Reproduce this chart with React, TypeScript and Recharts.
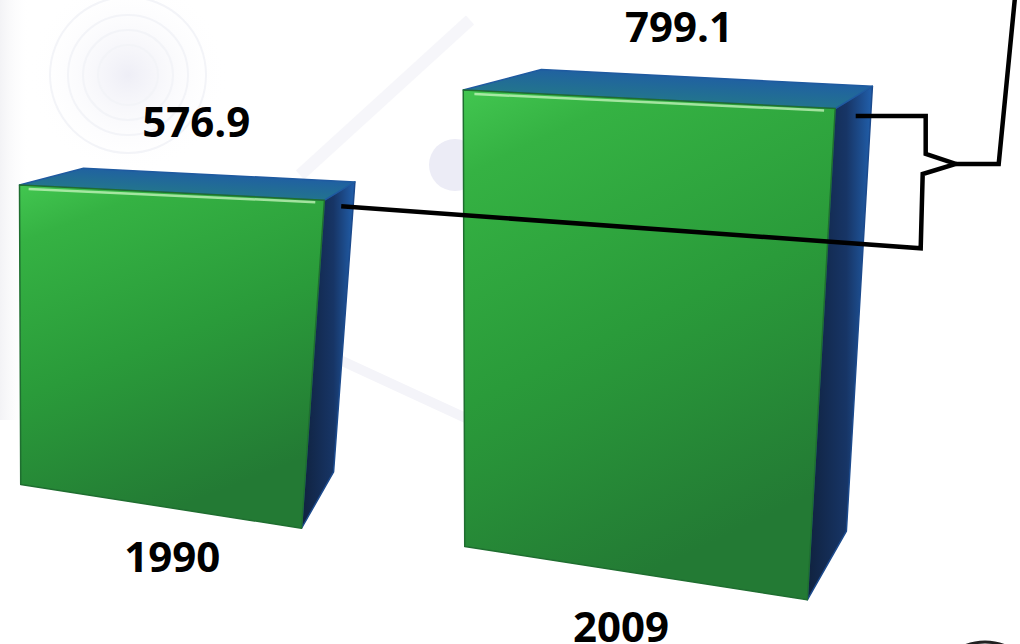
import React from "react";
import { Bar, BarChart, LabelList, XAxis, YAxis } from "recharts";

const years = ["1990", "2009"];
const totals = [576.9, 799.1];
const chartData = years.map((year, i) => ({ year, value: totals[i] }));

const FONT = '"Open Sans", "Liberation Sans", sans-serif';
const BAR_W = 305;
const NEAR_LEFT = 20; // left edge of the nearest (first) box
const BAND_STEP = 444;

type Pt = [number, number];

// fake perspective: boxes further right sit lower and look a bit bigger
const depthOf = (left: number) => (left - NEAR_LEFT) / BAND_STEP;

function boxGeo(x: number, y: number, width: number, height: number) {
  const d = depthOf(x);
  const s = width * (1 + 0.22 * d);
  const base = y + height;
  const floorL = base + 53 + 62 * d;
  const tl: Pt = [x, y];
  const tr: Pt = [x + s, y + 0.05 * s];
  const br: Pt = [x + 0.925 * s, floorL + 0.155 * 0.925 * s];
  const bl: Pt = [x + 0.004 * s, floorL];
  const trBack: Pt = [tr[0] + 0.1 * s, tr[1] - 0.06 * s];
  const brBack: Pt = [br[0] + 0.105 * s, br[1] - 0.185 * s];
  const tlBack: Pt = [x + 0.21 * s, y - 0.055 * s];
  const anchor: Pt = [tr[0] + 0.055 * s, tr[1] + 0.02 * s];
  return { s, tl, tr, br, bl, trBack, brBack, tlBack, anchor };
}

const pts = (list: Pt[]) => list.map((p) => `${p[0]},${p[1]}`).join(" ");

// side anchors, filled while the boxes render (in order)
const anchors: Pt[] = [];

function Box3D(props: any) {
  const { x, y, width, height, index } = props;
  const g = boxGeo(x, y, width, height);
  anchors[index] = g.anchor;
  let note = null;
  if (index === 1 && anchors[0]) {
    const a0 = anchors[0];
    const a1 = g.anchor;
    const bx = a1[0] + 70;
    const tipY = a1[1] + 48;
    const bottomY = a0[1] + 42;
    note = (
      <g fill="none" stroke="#000" strokeWidth={4.5} strokeLinejoin="miter">
        <polyline
          points={pts([
            a1,
            [bx, a1[1]],
            [bx, a1[1] + 38],
            [bx + 30, tipY],
            [bx - 3, a1[1] + 58],
            [bx - 5, bottomY],
            a0,
          ])}
        />
        <polyline points={pts([[bx + 30, tipY], [bx + 73, tipY], [bx + 90, -10]])} />
      </g>
    );
  }
  return (
    <g>
      <polygon points={pts([g.tr, g.trBack, g.brBack, g.br])} fill="url(#sideFill)" stroke="#1c4a8c" strokeWidth={1.5} strokeLinejoin="round" />
      <polygon points={pts([g.tl, g.tlBack, g.trBack, g.tr])} fill="url(#topFill)" stroke="#1f5aa0" strokeWidth={1.5} strokeLinejoin="round" />
      <polygon points={pts([g.tl, g.tr, g.br, g.bl])} fill="url(#frontFill)" stroke="#1f6e30" strokeWidth={1.5} strokeLinejoin="round" />
      <polyline
        points={pts([
          [g.tl[0] + 0.03 * g.s, g.tl[1] + 4],
          [g.tr[0] - 0.03 * g.s, g.tr[1] + 2],
        ])}
        stroke="#c9f5c0"
        strokeOpacity={0.75}
        strokeWidth={2.5}
        fill="none"
      />
      {note}
    </g>
  );
}

function ValueLabel(props: any) {
  const { x, y, width, height, value } = props;
  const g = boxGeo(x, y, width, height);
  return (
    <text x={x + 0.58 * g.s} y={y - 48} textAnchor="middle" fontFamily={FONT} fontWeight={700} fontSize={42} fill="#000">
      {value}
    </text>
  );
}

function YearTick(props: any) {
  const { x, y, payload } = props;
  const d = depthOf(x - BAR_W / 2);
  return (
    <text x={x + 5 * d} y={y + 132 + 70 * d} textAnchor="middle" fontFamily={FONT} fontWeight={700} fontSize={42} fill="#000">
      {payload.value}
    </text>
  );
}

function Backdrop() {
  return (
    <svg width={1020} height={644} style={{ position: "absolute", left: 0, top: 0 }}>
      <defs>
        <radialGradient id="wm" cx="0.5" cy="0.5" r="0.5">
          <stop offset="0%" stopColor="#eeeef6" />
          <stop offset="100%" stopColor="#ffffff" stopOpacity={0} />
        </radialGradient>
        <linearGradient id="leftShade" x1="0" y1="0" x2="1" y2="0">
          <stop offset="0%" stopColor="#f3f3f6" />
          <stop offset="100%" stopColor="#ffffff" stopOpacity={0} />
        </linearGradient>
      </defs>
      <rect width={1020} height={644} fill="#fff" />
      <rect x={0} y={0} width={30} height={420} fill="url(#leftShade)" />
      <circle cx={128} cy={75} r={100} fill="url(#wm)" />
      {[30, 45, 60, 78].map((r) => (
        <circle key={r} cx={128} cy={75} r={r} fill="none" stroke="#f3f4f8" strokeWidth={2} />
      ))}
      <circle cx={455} cy={165} r={26} fill="#ececf6" />
      <line x1={300} y1={175} x2={470} y2={20} stroke="#f6f6fa" strokeWidth={12} />
      <line x1={340} y1={360} x2={470} y2={420} stroke="#f4f4f9" strokeWidth={10} />
      <circle cx={985} cy={694} r={52} fill="none" stroke="#222" strokeWidth={3} />
    </svg>
  );
}

export default function App() {
  return (
    <div style={{ position: "absolute", left: 0, top: 0, width: 1020, height: 644, overflow: "hidden", background: "#fff" }}>
      <Backdrop />
      <div style={{ position: "absolute", left: 0, top: 0 }}>
        <BarChart width={1020} height={644} data={chartData} margin={{ top: 46.8, right: 182, bottom: 182.4, left: -49.5 }} barSize={BAR_W}>
          <defs>
            <linearGradient id="frontFill" x1="0" y1="0" x2="0.35" y2="1">
              <stop offset="0%" stopColor="#42c650" />
              <stop offset="15%" stopColor="#35b243" />
              <stop offset="55%" stopColor="#2a9b3a" />
              <stop offset="100%" stopColor="#237a34" />
            </linearGradient>
            <linearGradient id="sideFill" x1="0" y1="0" x2="1" y2="0">
              <stop offset="0%" stopColor="#10223f" />
              <stop offset="60%" stopColor="#173566" />
              <stop offset="100%" stopColor="#2160ad" />
            </linearGradient>
            <linearGradient id="topFill" x1="0" y1="1" x2="0.6" y2="0">
              <stop offset="0%" stopColor="#2ea24a" />
              <stop offset="30%" stopColor="#23788a" />
              <stop offset="100%" stopColor="#1f5aa8" />
            </linearGradient>
          </defs>
          <XAxis dataKey="year" axisLine={false} tickLine={false} interval={0} height={30} tick={<YearTick />} />
          <YAxis hide domain={[0, 900]} />
          <Bar dataKey="value" shape={<Box3D />} isAnimationActive={false}>
            <LabelList dataKey="value" content={<ValueLabel />} />
          </Bar>
        </BarChart>
      </div>
    </div>
  );
}
